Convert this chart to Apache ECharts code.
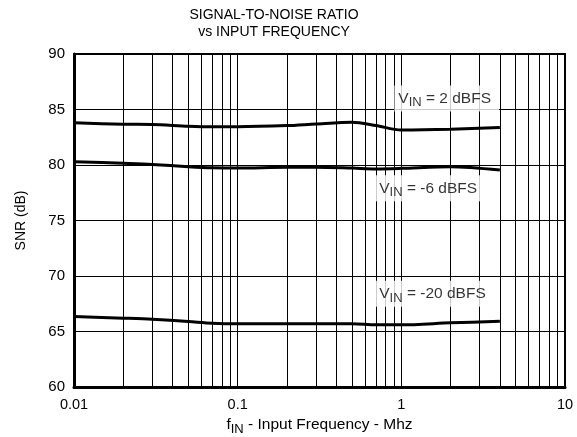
<!DOCTYPE html>
<html>
<head>
<meta charset="utf-8">
<script src="https://cdn.jsdelivr.net/npm/echarts@6/dist/echarts.min.js"></script>
<style>html,body{margin:0;padding:0;background:#fff;}#c{width:577px;height:437px;}</style>
</head>
<body>
<div id="c"></div>
<script>
var freq = [0.01, 0.02, 0.03, 0.05, 0.07, 0.1, 0.2, 0.3, 0.5, 0.7, 1, 2, 4];
var snr2dBFS = [83.8, 83.67, 83.65, 83.5, 83.45, 83.45, 83.55, 83.7, 83.85, 83.55, 83.15, 83.22, 83.38];
var snrM6dBFS = [80.3, 80.15, 80.05, 79.85, 79.75, 79.72, 79.8, 79.8, 79.72, 79.65, 79.7, 79.85, 79.55];
var snrM20dBFS = [66.35, 66.2, 66.1, 65.9, 65.75, 65.7, 65.7, 65.7, 65.7, 65.6, 65.6, 65.78, 65.92];
var minorGrid = [0.02,0.03,0.04,0.05,0.06,0.07,0.08,0.09,0.2,0.3,0.4,0.5,0.6,0.7,0.8,0.9,2,3,4,5,6,7,8,9];
var labelTexts = [' = 2 dBFS', ' = -6 dBFS', ' = -20 dBFS'];
var labelPos = [[0.906, 86.0], [0.693, 77.9], [0.693, 68.4]];
var yTicks = {min: 60, max: 90, interval: 5};

var FONT = 'Liberation Sans, Arial, sans-serif';
function pairs(ys) { return freq.map(function (f, i) { return [f, ys[i]]; }); }
var rich = {
  v: {fontSize: 15.5, lineHeight: 22, fontFamily: FONT, color: '#000', verticalAlign: 'middle'},
  s: {fontSize: 13, lineHeight: 12, fontFamily: FONT, color: '#000', verticalAlign: 'bottom'}
};
var chart = echarts.init(document.getElementById('c'), null, {renderer: 'canvas'});
var lineStyle = {color: '#000', width: 3};
chart.setOption({
  animation: false,
  backgroundColor: '#fff',
  graphic: [{
    type: 'text', x: 274, y: 7, z: 10,
    style: {text: 'SIGNAL-TO-NOISE RATIO\nvs INPUT FREQUENCY', align: 'center', verticalAlign: 'top', fill: '#000',
      font: '14px ' + FONT, lineHeight: 17}
  }],
  grid: {left: 74, right: 12, top: 54, bottom: 50, containLabel: false, outerBoundsMode: 'none',
    show: true, borderColor: '#000', borderWidth: 2, backgroundColor: 'transparent'},
  xAxis: {
    type: 'log', logBase: 10, min: 0.01, max: 10,
    axisLine: {show: true, lineStyle: {color: '#000', width: 3}},
    axisTick: {show: false},
    splitLine: {show: true, lineStyle: {color: '#000', width: 1}},
    axisLabel: {color: '#000', fontSize: 14.5, fontFamily: FONT, margin: 10,
      formatter: function (v) { return String(+v.toPrecision(3)); }},
    name: '{v|f}{s|IN}{v| - Input Frequency - Mhz}',
    nameLocation: 'middle', nameGap: 26,
    nameTextStyle: {rich: rich}
  },
  yAxis: {
    type: 'value', min: yTicks.min, max: yTicks.max, interval: yTicks.interval,
    axisLine: {show: true, lineStyle: {color: '#000', width: 3}},
    axisTick: {show: false},
    splitLine: {show: true, lineStyle: {color: '#000', width: 1}},
    axisLabel: {color: '#000', fontSize: 15, fontFamily: FONT, margin: 9},
    name: 'SNR (dB)', nameLocation: 'middle', nameGap: 46,
    nameTextStyle: {color: '#000', fontSize: 14, fontFamily: FONT}
  },
  series: [
    {type: 'line', data: [], silent: true, markLine: {
      silent: true, symbol: 'none', label: {show: false}, animation: false,
      lineStyle: {color: '#000', width: 1, type: 'solid'},
      data: minorGrid.map(function (f) { return {xAxis: f}; })
    }},
    {type: 'line', name: '2 dBFS', data: pairs(snr2dBFS), smooth: 0.3, showSymbol: false, lineStyle: lineStyle, z: 3},
    {type: 'line', name: '-6 dBFS', data: pairs(snrM6dBFS), smooth: 0.3, showSymbol: false, lineStyle: lineStyle, z: 3},
    {type: 'line', name: '-20 dBFS', data: pairs(snrM20dBFS), smooth: 0.3, showSymbol: false, lineStyle: lineStyle, z: 3},
    {type: 'scatter', symbolSize: 0, z: 5, silent: true,
      data: labelPos.map(function (p) { return p; }),
      label: {show: true, position: 'inside', align: 'left', verticalAlign: 'middle',
        backgroundColor: '#fff', padding: [2, 8, 2, 4],
        formatter: function (p) { return '{v|V}{s|IN}{v|' + labelTexts[p.dataIndex] + '}'; },
        rich: rich}
    }
  ]
});
</script>
</body>
</html>
